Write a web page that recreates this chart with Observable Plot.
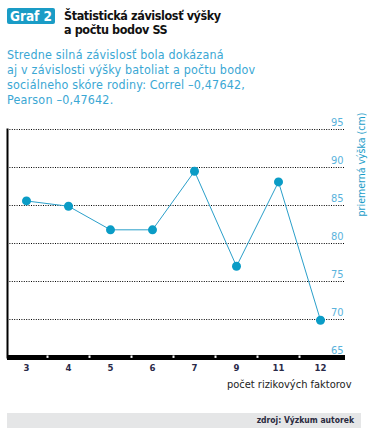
<!DOCTYPE html>
<html>
<head>
<meta charset="utf-8">
<script src="https://cdn.jsdelivr.net/npm/d3@7"></script>
<script src="https://cdn.jsdelivr.net/npm/@observablehq/plot@0.6"></script>
<style>
  html, body { margin: 0; padding: 0; background: #fff; }
  #wrap { position: relative; width: 371px; height: 438px; overflow: hidden; font-family: "DejaVu Sans Condensed", "Liberation Sans Narrow", "Roboto", sans-serif; }
  #badge { position: absolute; left: 7px; top: 8px; width: 48px; height: 16px; background: #1a9cc6; border-radius: 2px;
           color: #fff; font-weight: bold; font-size: 13.5px; line-height: 16px; text-align: center; }
  #title { position: absolute; left: 64px; top: 9px; font-weight: bold; font-size: 12.5px; line-height: 14px; color: #111; letter-spacing: -0.4px; }
  #subtitle { position: absolute; left: 7px; top: 47px; font-size: 12.4px; line-height: 15px; color: #3aa7d4; letter-spacing: 0.2px; }
  #chart { position: absolute; left: 0; top: 110px; }
  #source { position: absolute; left: 7px; top: 413px; width: 354px; height: 15px; background: #e5e6e7;
            font-size: 8.5px; font-weight: bold; line-height: 15px; text-align: right; color: #2a2a40; }
  #source span { padding-right: 7px; }
</style>
</head>
<body>
<div id="wrap">
  <div id="badge">Graf 2</div>
  <div id="title">Štatistická závislosť výšky<br>a počtu bodov SS</div>
  <div id="subtitle">Stredne silná závislosť bola dokázaná<br>aj v závislosti výšky batoliat a počtu bodov<br>sociálneho skóre rodiny: Correl –0,47642,<br>Pearson –0,47642.</div>
  <div id="chart"></div>
  <div id="source"><span>zdroj: Výzkum autorek</span></div>
</div>
<script>
const categories = ["3", "4", "5", "6", "7", "9", "11", "12"];
const heights = [85.6, 84.9, 81.8, 81.8, 89.5, 77.0, 88.1, 69.9];
const yTicks = [65, 70, 75, 80, 85, 90, 95];
const gridTicks = [70, 75, 80, 85, 90, 95];
const yLabel = "priemerná výška (cm)";
const xLabel = "počet rizikových faktorov";

const data = categories.map((c, i) => ({cat: c, value: heights[i]}));
const font = "'DejaVu Sans Condensed', 'Liberation Sans Narrow', sans-serif";

const plot = Plot.plot({
  width: 371,
  height: 285,
  marginTop: 19,
  marginBottom: 38,
  marginLeft: 7,
  marginRight: 26,
  style: {fontFamily: font, background: "transparent"},
  x: {type: "band", domain: categories, range: [5, 341], padding: 0, axis: null},
  y: {domain: [65, 95], axis: null},
  marks: [
    Plot.ruleY(gridTicks, {stroke: "#000", strokeWidth: 1, strokeDasharray: "1,1.4"}),
    Plot.frame({anchor: "left", stroke: "#000", strokeWidth: 2}),
    Plot.ruleY([65], {stroke: "#000", strokeWidth: 5}),
    Plot.ruleX(categories.slice(1), {x: d => d, y1: 64.88, y2: 65.2, dx: -21, stroke: "#fff", strokeWidth: 2}),
    Plot.text(yTicks, {y: d => d, text: d => String(d), frameAnchor: "right", textAnchor: "end", dx: -2, dy: -7, fill: "#5ab3dc", fontSize: 11}),
    Plot.text([yLabel], {text: d => d, frameAnchor: "top-right", rotate: -90, dx: 12, dy: 35, textAnchor: "middle", fill: "#1a9cc8", fontSize: 10.5}),
    Plot.text(categories, {x: d => d, text: d => d, frameAnchor: "bottom", dy: 13, fill: "#2a2a48", fontSize: 9.5, fontWeight: "bold"}),
    Plot.text([xLabel], {text: d => d, frameAnchor: "bottom-right", textAnchor: "end", dx: 6, dy: 30, fill: "#222", fontSize: 11}),
    Plot.line(data, {x: "cat", y: "value", stroke: "#2a9fca", strokeWidth: 1}),
    Plot.dot(data, {x: "cat", y: "value", r: 4.5, fill: "#0a9cc6", stroke: "none"})
  ]
});
document.getElementById("chart").appendChild(plot);
</script>
</body>
</html>
